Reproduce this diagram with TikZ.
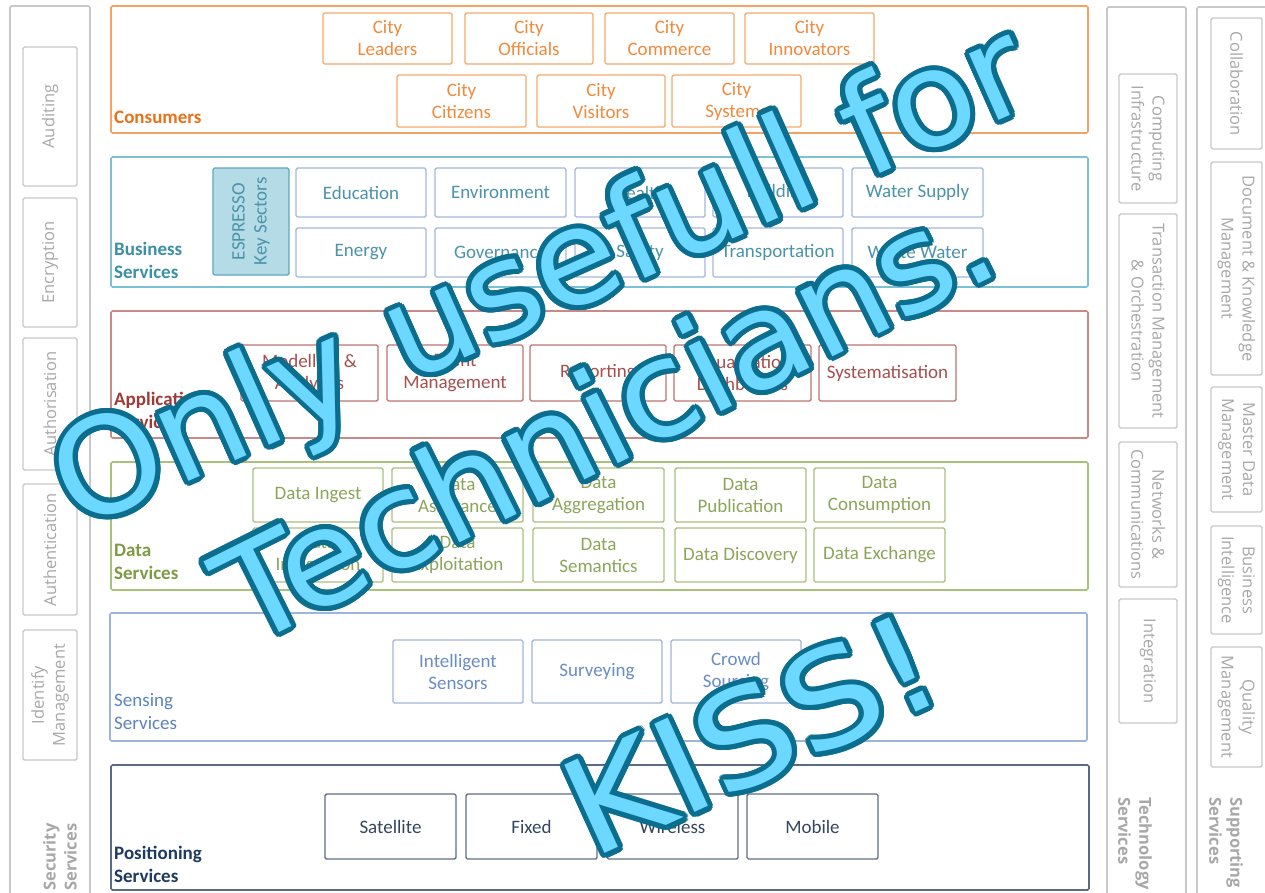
\documentclass[tikz,border=0pt]{standalone}
\usepackage{fontspec}
\setmainfont{Carlito}
\newfontfamily\graysans{Open Sans}
\newfontfamily\kissfont{DejaVu Sans}
\usetikzlibrary{calc}
\definecolor{orgL}{HTML}{F5A262}
\definecolor{orgB}{HTML}{F5A96A}
\definecolor{orgT}{HTML}{F08A3C}
\definecolor{orgLab}{HTML}{E8711A}
\definecolor{busL}{HTML}{7CC1D3}
\definecolor{busB}{HTML}{A3B8DB}
\definecolor{busT}{HTML}{4A93AA}
\definecolor{busLab}{HTML}{3B8FA7}
\definecolor{espF}{HTML}{B4DBE6}
\definecolor{espB}{HTML}{5FA8C0}
\definecolor{appL}{HTML}{C78A88}
\definecolor{appB}{HTML}{BD7472}
\definecolor{appT}{HTML}{A5504D}
\definecolor{appLab}{HTML}{9E3B38}
\definecolor{datL}{HTML}{A9C27A}
\definecolor{datB}{HTML}{A9C07E}
\definecolor{datT}{HTML}{8CA55A}
\definecolor{datLab}{HTML}{7E9A45}
\definecolor{senL}{HTML}{9DB5D8}
\definecolor{senB}{HTML}{A0B5D9}
\definecolor{senT}{HTML}{6B8CC4}
\definecolor{senLab}{HTML}{5B83BF}
\definecolor{posL}{HTML}{5B6B85}
\definecolor{posB}{HTML}{5F6E86}
\definecolor{posT}{HTML}{35465F}
\definecolor{posLab}{HTML}{1F3A60}
\definecolor{grL}{HTML}{C8C8C8}
\definecolor{grT}{HTML}{A8A8A8}
\definecolor{kissF}{HTML}{6CD8FF}
\definecolor{kissD}{HTML}{0C6E8E}
\newcommand\ibox[7]{\node[#6,minimum width={(#4-#2)*1pt},minimum height={(#5-#3)*1pt}] (#1) at ({(#2+#4)/2},{(#3+#5)/2}) {#7};}
\newcommand\rbox[7]{\node[#6,minimum width={(#5-#3)*1pt},minimum height={(#4-#2)*1pt}] (#1) at ({(#2+#4)/2},{(#3+#5)/2}) {#7};}
\newcommand\kisstext[5]{% name, coord, angle, xstretch, text
  \foreach \a in {0,15,...,345}{\node[kiss,rotate=#3,xscale=#4,text=kissD] (#1-\a) at ($(#2)+(\a:5)$) {#5};}
  \node[kiss,rotate=#3,xscale=#4,text=kissF] (#1) at (#2) {#5};}
\begin{document}
\begin{tikzpicture}[x=1pt,y=-1pt,
  layer/.style={line width=1.6pt,rounded corners=1.5pt},
  item/.style={draw,line width=1.4pt,rounded corners=1.5pt,align=center,inner sep=0pt,font=\fontsize{19}{22}\selectfont},
  cons/.style={item,draw=orgB,text=orgT},
  sect/.style={item,draw=busB,text=busT},
  esp/.style={item,draw=espB,fill=espF,text=busT,rotate=90},
  appi/.style={item,draw=appB,text=appT},
  dati/.style={item,draw=datB,text=datT},
  seni/.style={item,draw=senB,text=senT},
  posi/.style={item,draw=posB,text=posT},
  lab/.style={anchor=west,align=left,inner sep=0pt,font=\fontsize{19}{23}\selectfont\bfseries},
  gitem/.style={draw=grL,line width=1.4pt,rounded corners=1.5pt,align=center,inner sep=0pt,text=grT,font=\graysans\fontsize{16.5}{21}\selectfont},
  gl/.style={gitem,rotate=90},
  gr/.style={gitem,rotate=-90},
  glab/.style={align=left,inner sep=0pt,text=grT,font=\graysans\bfseries\fontsize{16.5}{21}\selectfont},
  kiss/.style={inner sep=0pt,font=\kissfont\fontsize{133}{133}\selectfont}]
\useasboundingbox (0,0) rectangle (1265,892);
\fill[white] (0,0) rectangle (1265,892);
% gray columns
\draw[layer,grL] (10,6) rectangle (90,905);
\draw[layer,grL] (1107,7) rectangle (1186,905);
\draw[layer,grL] (1197,7) rectangle (1285,905);
\rbox{aud}{23}{47}{77}{186}{gl}{Auditing}
\rbox{enc}{23}{198}{77}{327}{gl}{Encryption}
\rbox{ath}{23}{338}{77}{470}{gl}{Authorisation}
\rbox{atn}{23}{484}{77}{615}{gl}{Authentication}
\rbox{idm}{23}{630}{77}{760}{gl}{Identify\\Management}
\node[glab,rotate=90,anchor=west] (secs) at (60,891) {Security\\Services};
\rbox{cmp}{1119}{74}{1177}{203}{gr}{Computing\\Infrastructure}
\rbox{trm}{1119}{214}{1177}{428}{gr}{Transaction Management\\\& Orchestration}
\rbox{nwc}{1119}{442}{1177}{587}{gr}{Networks \&\\Communications}
\rbox{itg}{1119}{599}{1177}{723}{gr}{Integration}
\node[glab,rotate=-90,anchor=west] (tecs) at (1135,797) {Technology\\Services};
\rbox{col}{1211}{18}{1262}{149}{gr}{Collaboration}
\rbox{dkm}{1211}{162}{1262}{375}{gr}{Document \& Knowledge\\Management}
\rbox{mdm}{1211}{387}{1262}{512}{gr}{Master Data\\Management}
\rbox{bin}{1211}{526}{1262}{634}{gr}{Business\\Intelligence}
\rbox{qm}{1211}{647}{1262}{767}{gr}{Quality\\Management}
\node[glab,rotate=-90,anchor=west] (sups) at (1226,797) {Supporting\\Services};
% consumers
\draw[layer,orgL] (111,6) rectangle (1088,133);
\node[lab,text=orgLab] (lcons) at (114,117) {Consumers};
\ibox{cl}{323}{13}{452}{64}{cons}{City\\Leaders}
\ibox{co}{465}{13}{593}{64}{cons}{City\\Officials}
\ibox{cc}{605}{13}{734}{64}{cons}{City\\Commerce}
\ibox{ci}{745}{13}{874}{64}{cons}{City\\Innovators}
\ibox{cz}{397}{75}{526}{127}{cons}{City\\Citizens}
\ibox{cv}{537}{75}{665}{127}{cons}{City\\Visitors}
\ibox{cs}{672}{75}{801}{127}{cons}{City\\Systems}
% business
\draw[layer,busL] (111,157) rectangle (1088,287);
\node[lab,text=busLab] (lbus) at (114,260) {Business\\Services};
\rbox{esp}{213}{168}{289}{275}{esp}{ESPRESSO\\Key Sectors}
\ibox{s1}{296}{168}{426}{217}{sect}{Education}
\ibox{s2}{435}{168}{566}{217}{sect}{Environment}
\ibox{s3}{575}{168}{705}{217}{sect}{Health}
\ibox{s4}{713}{168}{843}{217}{sect}{Building}
\ibox{s5}{852}{168}{983}{217}{sect}{Water Supply}
\ibox{s6}{296}{228}{426}{277}{sect}{Energy}
\ibox{s7}{435}{228}{566}{277}{sect}{Governance}
\ibox{s8}{575}{228}{705}{277}{sect}{Safety}
\ibox{s9}{713}{228}{843}{277}{sect}{Transportation}
\ibox{s10}{852}{228}{983}{277}{sect}{Waste Water}
% application
\draw[layer,appL] (111,311) rectangle (1088,438);
\node[lab,text=appLab] (lapp) at (114,410) {Application\\Services};
\ibox{a1}{241}{345}{378}{401}{appi}{Modelling \&\\Analytics}
\ibox{a2}{387}{345}{523}{401}{appi}{Event\\Management}
\ibox{a3}{530}{345}{666}{401}{appi}{Reporting}
\ibox{a4}{674}{345}{811}{401}{appi}{Visualisation\\Dashboards}
\ibox{a5}{819}{345}{956}{401}{appi}{Systematisation}
% data
\draw[layer,datL] (111,462) rectangle (1088,590);
\node[lab,text=datLab] (ldat) at (114,562) {Data\\Services};
\ibox{d1}{253}{468}{383}{522}{dati}{Data Ingest}
\ibox{d2}{392}{468}{523}{522}{dati}{Data\\Assurance}
\ibox{d3}{533}{468}{664}{522}{dati}{Data\\Aggregation}
\ibox{d4}{675}{468}{806}{522}{dati}{Data\\Publication}
\ibox{d5}{814}{468}{945}{522}{dati}{Data\\Consumption}
\ibox{d6}{253}{528}{383}{582}{dati}{Data\\Integration}
\ibox{d7}{392}{528}{523}{582}{dati}{Data\\Exploitation}
\ibox{d8}{533}{528}{664}{582}{dati}{Data\\Semantics}
\ibox{d9}{675}{528}{806}{582}{dati}{Data Discovery}
\ibox{d10}{814}{528}{945}{582}{dati}{Data Exchange}
% sensing
\draw[layer,senL] (110,613) rectangle (1087,741);
\node[lab,text=senLab,font=\fontsize{19}{23}\selectfont] (lsen) at (114,712) {Sensing\\Services};
\ibox{n1}{393}{640}{523}{703}{seni}{Intelligent\\Sensors}
\ibox{n2}{532}{640}{662}{703}{seni}{Surveying}
\ibox{n3}{671}{640}{801}{703}{seni}{Crowd\\Sourcing}
% positioning
\draw[layer,posL] (111,765) rectangle (1089,890);
\node[lab,text=posLab] (lpos) at (114,864) {Positioning\\Services};
\ibox{p1}{325}{794}{456}{859}{posi}{Satellite}
\ibox{p2}{466}{794}{597}{859}{posi}{Fixed}
\ibox{p3}{607}{794}{738}{859}{posi}{Wireless}
\ibox{p4}{747}{794}{878}{859}{posi}{Mobile}
% overlay
\kisstext{k1}{544,283}{24}{1.04}{Only usefull for}
\kisstext{k2}{604,415}{26.5}{1.05}{Technicians.}
\kisstext{k3}{751,734}{24.5}{1.13}{KISS!}
\end{tikzpicture}
\end{document}
